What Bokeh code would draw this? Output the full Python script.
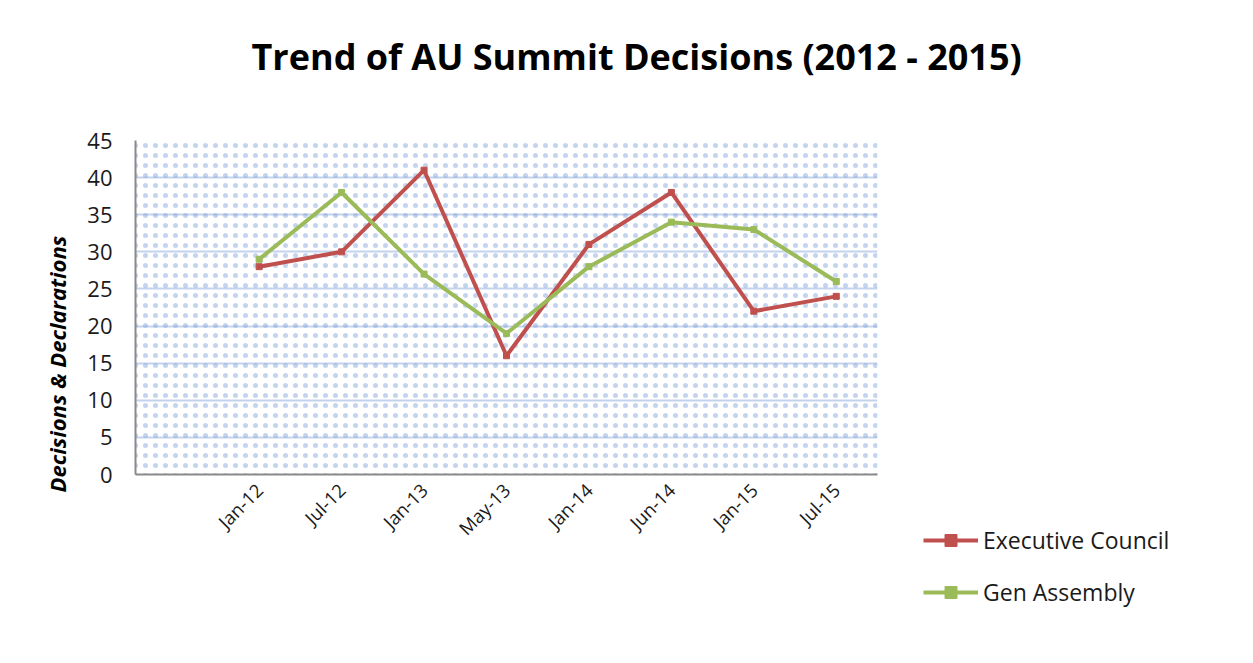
import math
from bokeh.plotting import figure
from bokeh.models import (FactorRange, Range1d, BoxAnnotation, Legend,
                          LegendItem, FixedTicker, ColumnDataSource, Title)
from bokeh.embed import file_html
from bokeh.resources import INLINE

# ---- data ----
months = ["Jan-12", "Jul-12", "Jan-13", "May-13", "Jan-14", "Jun-14", "Jan-15", "Jul-15"]
executive_council = [28, 30, 41, 16, 31, 38, 22, 24]
gen_assembly = [29, 38, 27, 19, 28, 34, 33, 26]
y_ticks = [0, 5, 10, 15, 20, 25, 30, 35, 40, 45]
factors = [""] + months  # leading empty category as in the original sheet

title_text = "Trend of AU Summit Decisions (2012 - 2015)"
y_label = "Decisions & Declarations"

RED = "#c0504d"
GREEN = "#9bbb59"
FONT = "Open Sans"

p = figure(frame_width=742, frame_height=334, output_backend="svg",
           toolbar_location=None,
           x_range=FactorRange(factors=factors, range_padding=0),
           y_range=Range1d(0, 45),
           min_border_left=135, min_border_right=360,
           min_border_top=140, min_border_bottom=173)
p.outline_line_color = None
p.background_fill_color = "white"
p.border_fill_color = "white"

# dotted background pattern
bg = BoxAnnotation(fill_color=None, fill_alpha=0, line_color=None,
                   hatch_pattern="dot", hatch_color="#7c9fd9", hatch_alpha=0.45,
                   hatch_scale=10, hatch_weight=0.2, level="underlay")
p.add_layout(bg)

# grid
p.xgrid.grid_line_color = None
p.ygrid.grid_line_color = "#c3d3ee"
p.ygrid.grid_line_width = 2
p.yaxis.ticker = FixedTicker(ticks=y_ticks)

# axes
for ax in (p.xaxis, p.yaxis):
    ax.axis_line_color = "#8a8a8a"
    ax.axis_line_width = 2
    ax.major_tick_line_color = None
    ax.minor_tick_line_color = None
    ax.major_label_text_font = FONT
    ax.major_label_text_color = "#1a1a1a"
p.yaxis.major_label_text_font_size = "22px"
p.xaxis.major_label_text_font_size = "18.5px"
p.yaxis.major_label_standoff = 17
p.xaxis.major_label_orientation = math.pi / 4
p.xaxis.major_label_standoff = 6
# trailing spaces shift each slanted label's end a little left of its category
p.xaxis.major_label_overrides = {m: m + "  " for m in months}

src_e = ColumnDataSource(dict(x=months, y=executive_council))
src_g = ColumnDataSource(dict(x=months, y=gen_assembly))

le = p.line("x", "y", source=src_e, line_color=RED, line_width=4)
se = p.scatter("x", "y", source=src_e, marker="square", size=6, color=RED)
lg = p.line("x", "y", source=src_g, line_color=GREEN, line_width=4)
sg = p.scatter("x", "y", source=src_g, marker="square", size=6, color=GREEN)

legend = Legend(items=[LegendItem(label="Executive Council", renderers=[le, se]),
                       LegendItem(label="Gen Assembly", renderers=[lg, sg])],
                location=(46, -134), orientation="vertical",
                border_line_color=None, background_fill_alpha=0,
                padding=0, margin=0, spacing=20,
                glyph_width=55, glyph_height=30, label_height=30,
                label_standoff=5,
                label_text_font=FONT, label_text_font_size="23px",
                label_text_color="#1a1a1a")
p.add_layout(legend, "right")

# main title (trailing blank line lifts the text within its box)
p.add_layout(Title(text=title_text + "\n ", align="left", offset=116, standoff=21,
                   text_font=FONT, text_font_size="36px", text_font_style="bold",
                   text_color="black"), "above")
# y axis title
p.add_layout(Title(text=y_label, align="left", offset=-18, standoff=25,
                   text_font=FONT, text_font_size="22px",
                   text_font_style="bold italic", text_color="black"), "left")

open("out.html", "w").write(file_html(p, INLINE))
